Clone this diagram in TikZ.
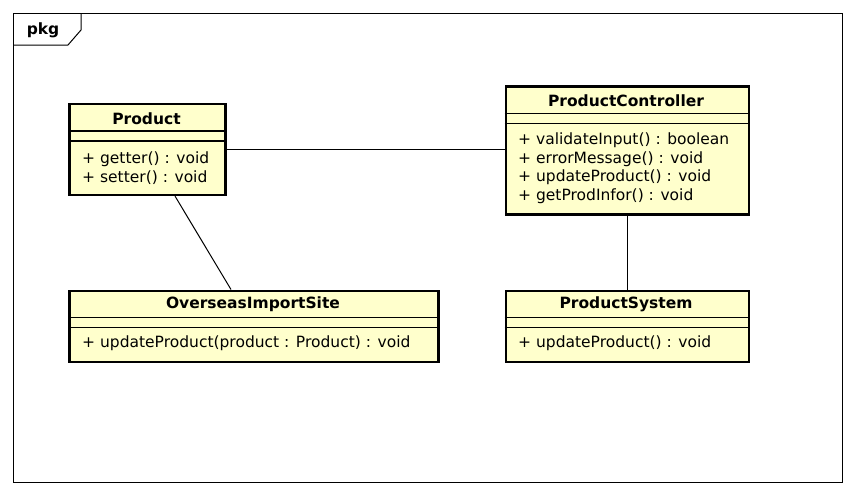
\documentclass[tikz,border=0pt]{standalone}
\usepackage{fontspec}
\setmainfont{DejaVu Sans}
\usetikzlibrary{calc}
\definecolor{umlfill}{HTML}{FFFFCC}
\begin{document}
\begin{tikzpicture}[x=1pt,y=-1pt,
  cls/.style={draw, line width=2.6pt, fill=umlfill, inner sep=0pt, anchor=north west},
  sep/.style={line width=1.2pt},
  frameline/.style={line width=1pt},
  title/.style={font=\fontsize{15.5}{18}\selectfont\bfseries, inner sep=0pt},
  member/.style={font=\fontsize{15.5}{18}\selectfont, inner sep=0pt, anchor=mid west},
  conn/.style={line width=1pt}]
\useasboundingbox (0,0) rectangle (856,496);
% package frame
\draw[frameline] (13,13) rectangle (842,482);
\draw[frameline] (13,45) -- (68,45) -- (81,30) -- (81,13);
\node[title] (pkg) at (43,30) {pkg};
% classes
\node[cls, minimum width=156pt, minimum height=91pt] (product) at (68,102.5) {};
\node[cls, minimum width=243pt, minimum height=128pt] (pc) at (504.5,85) {};
\node[cls, minimum width=369pt, minimum height=71pt] (ois) at (68,289.5) {};
\node[cls, minimum width=243pt, minimum height=71pt] (ps) at (504.5,289.5) {};
% separators
\draw[sep] ($(product.north west)+(0,28.5)$) -- ($(product.north east)+(0,28.5)$);
\draw[sep] ($(product.north west)+(0,38.5)$) -- ($(product.north east)+(0,38.5)$);
\draw[sep] ($(pc.north west)+(0,28.5)$) -- ($(pc.north east)+(0,28.5)$);
\draw[sep] ($(pc.north west)+(0,38.5)$) -- ($(pc.north east)+(0,38.5)$);
\draw[sep] ($(ois.north west)+(0,28)$) -- ($(ois.north east)+(0,28)$);
\draw[sep] ($(ois.north west)+(0,38)$) -- ($(ois.north east)+(0,38)$);
\draw[sep] ($(ps.north west)+(0,28)$) -- ($(ps.north east)+(0,28)$);
\draw[sep] ($(ps.north west)+(0,38)$) -- ($(ps.north east)+(0,38)$);
% titles
\node[title] (productT) at (146.5,119) {Product};
\node[title] (pcT) at (626,101) {ProductController};
\node[title] (oisT) at (253,304) {OverseasImportSite};
\node[title] (psT) at (626,304) {ProductSystem};
% members
\node[member] (p1) at (82,161) {+ getter() : void};
\node[member] (p2) at (82,179.5) {+ setter() : void};
\node[member] (c1) at (518,142) {+ validateInput() : boolean};
\node[member] (c2) at (518,160.5) {+ errorMessage() : void};
\node[member] (c3) at (518,179) {+ updateProduct() : void};
\node[member] (c4) at (518,197.5) {+ getProdInfor() : void};
\node[member] (o1) at (82,345) {+ updateProduct(product : Product) : void};
\node[member] (s1) at (518,345) {+ updateProduct() : void};
% connectors
\draw[conn] (product.east) -- (product.east -| pc.west);
\draw[conn] ($(product.south west)+(107,0)$) -- ($(ois.north west)+(163,0)$);
\draw[conn] (pc.south) -- (ps.north);
\end{tikzpicture}
\end{document}
